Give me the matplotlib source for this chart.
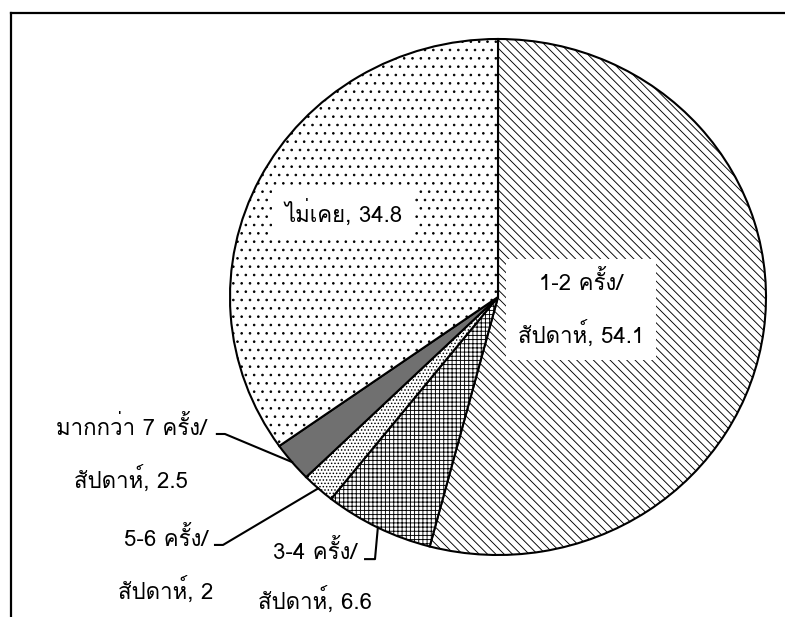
import numpy as np
import matplotlib
matplotlib.use('Agg')
import matplotlib.pyplot as plt
from matplotlib.lines import Line2D

plt.rcParams['font.family'] = ['Loma', 'DejaVu Sans']
plt.rcParams['hatch.linewidth'] = 0.65

# slices clockwise from 12 o'clock
labels = ['1-2 ครั้ง/\nสัปดาห์', '3-4 ครั้ง/\nสัปดาห์', '5-6 ครั้ง/\nสัปดาห์',
          'มากกว่า 7 ครั้ง/\nสัปดาห์', 'ไม่เคย']
values = [54.1, 6.6, 2, 2.5, 34.8]
fills = ['white', 'white', 'white', '#707070', 'white']
hatches = ['\\\\\\\\', '++++', '.....', '', '..']

fig = plt.figure(figsize=(7.85, 6.17), dpi=100)
ax = fig.add_axes([0.2930, 0.1005, 0.6828, 0.8363])

wedges, _ = ax.pie(values, startangle=90, counterclock=False, radius=1,
                   colors=fills, hatch=hatches,
                   wedgeprops=dict(edgecolor='black', linewidth=1.5))
ax.set_aspect('auto')
ax.set_xlim(-1, 1)
ax.set_ylim(-1, 1)

def lab(i):
    v = values[i]
    return labels[i] + ', ' + ('%g' % v)

fs = 16
box = dict(boxstyle='square,pad=0.55', facecolor='white', edgecolor='none')

# labels inside the pie
ax.text(-0.578, 0.326, lab(4), fontsize=fs, ha='center', va='center', bbox=box)
ax.text(0.31, -0.047, lab(0), fontsize=fs, ha='center', va='center',
        linespacing=2.15, bbox=box)

# outside labels with leader lines (text pos, line start, elbow)
outside = {
    3: ((-1.369, -0.609), (-1.049, -0.531), (-1.019, -0.531)),
    2: ((-1.239, -1.039), (-1.056, -0.961), (-1.026, -0.961)),
    1: ((-0.683, -1.085), (-0.496, -1.016), (-0.459, -1.016)),
}
cum = np.cumsum([0] + values)
for i, (tpos, p0, p1) in outside.items():
    mid = 90 - (cum[i] + values[i] / 2) / 100 * 360
    ex, ey = np.cos(np.radians(mid)), np.sin(np.radians(mid))
    ax.plot([p0[0], p1[0], ex], [p0[1], p1[1], ey], color='black', lw=1.5,
            clip_on=False)
    ax.text(tpos[0], tpos[1], lab(i), fontsize=fs, ha='center', va='center',
            linespacing=2.0 if i == 1 else 2.15, clip_on=False)

# chart frame (cut off at right and bottom)
x0, y0 = 11 / 785, 1 - 13 / 617
fig.add_artist(Line2D([x0, x0], [0, y0], color='black', lw=1.6))
fig.add_artist(Line2D([x0, 1], [y0, y0], color='black', lw=1.6))

fig.savefig('out.png')
